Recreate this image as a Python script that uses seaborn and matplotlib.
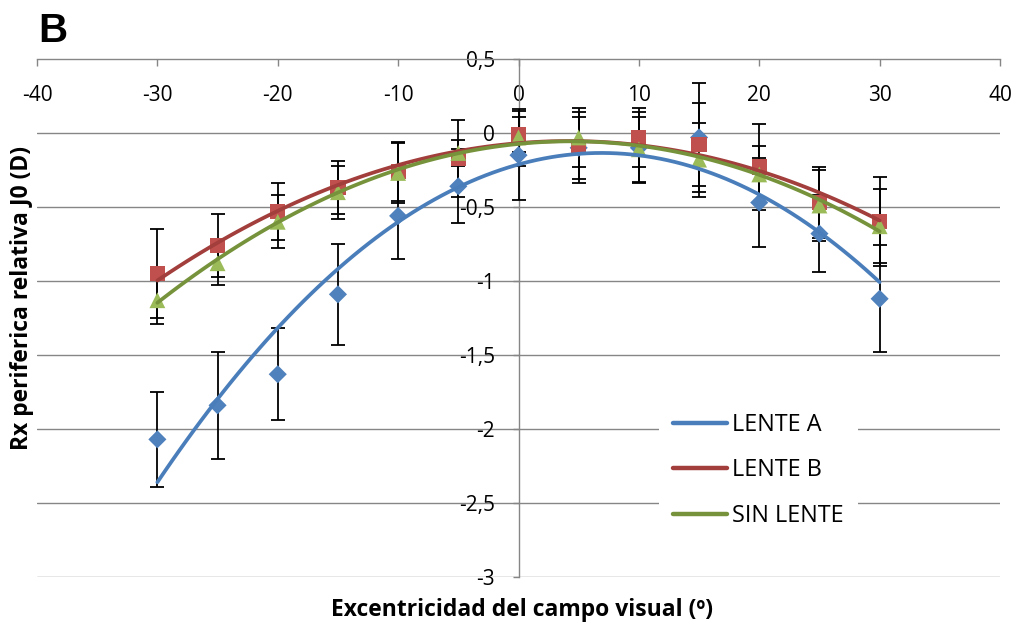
import numpy as np
import pandas as pd
import matplotlib
matplotlib.use("Agg")
import matplotlib.pyplot as plt
import seaborn as sns
from matplotlib.ticker import FuncFormatter
from matplotlib.lines import Line2D

# Eccentricity of the visual field (degrees)
ecc = [-30, -25, -20, -15, -10, -5, 0, 5, 10, 15, 20, 25, 30]

# Relative peripheral refraction J0 (D), mean and error per series
lente_a = [-2.07, -1.84, -1.63, -1.09, -0.56, -0.36, -0.15, -0.10, -0.10, -0.03, -0.47, -0.68, -1.12]
lente_a_err = [0.32, 0.36, 0.31, 0.34, 0.29, 0.25, 0.30, 0.21, 0.24, 0.37, 0.30, 0.26, 0.36]
lente_b = [-0.95, -0.76, -0.53, -0.37, -0.26, -0.17, -0.01, -0.10, -0.03, -0.08, -0.23, -0.47, -0.60]
lente_b_err = [0.30, 0.21, 0.19, 0.18, 0.20, 0.26, 0.12, 0.24, 0.20, 0.28, 0.29, 0.24, 0.30]
sin_lente = [-1.13, -0.88, -0.60, -0.40, -0.27, -0.135, -0.03, -0.03, -0.11, -0.18, -0.28, -0.49, -0.63]
sin_lente_err = [0.16, 0.15, 0.18, 0.18, 0.20, 0.09, 0.19, 0.20, 0.22, 0.25, 0.19, 0.24, 0.25]

series_names = ["LENTE A", "LENTE B", "SIN LENTE"]
x_ticks = [-40, -30, -20, -10, 0, 10, 20, 30, 40]
y_ticks = [-3, -2.5, -2, -1.5, -1, -0.5, 0, 0.5]

marker_colors = {"LENTE A": "#4F81BD", "LENTE B": "#C0504D", "SIN LENTE": "#9BBB59"}
line_colors = {"LENTE A": "#4A7EBB", "LENTE B": "#A23E3B", "SIN LENTE": "#76933C"}
markers = {"LENTE A": "D", "LENTE B": "s", "SIN LENTE": "^"}
sizes = {"LENTE A": 85, "LENTE B": 120, "SIN LENTE": 130}

sns.set_theme(style="white")
plt.rcParams["font.family"] = ["Open Sans", "DejaVu Sans"]
plt.rcParams["text.color"] = "black"
plt.rcParams["axes.labelcolor"] = "black"

W, H = 1017, 630
fig = plt.figure(figsize=(W / 100, H / 100), dpi=100)
ax = fig.add_axes([37 / W, 53 / H, 963 / W, 518 / H])

ax.set_xlim(-40, 40)
ax.set_ylim(-3, 0.5)

# horizontal gridlines
for yv in y_ticks[:-1]:
    ax.axhline(yv, color="#868686", lw=1.0, zorder=0)

values = {"LENTE A": (lente_a, lente_a_err),
          "LENTE B": (lente_b, lente_b_err),
          "SIN LENTE": (sin_lente, sin_lente_err)}

rows = []
for name in series_names:
    vals, errs = values[name]
    for xv, yv, ev in zip(ecc, vals, errs):
        rows.append({"ecc": xv, "val": yv, "err": ev, "serie": name})
df = pd.DataFrame(rows)

# error bars
for name in series_names:
    sub = df[df["serie"] == name]
    ax.errorbar(sub["ecc"], sub["val"], yerr=sub["err"], fmt="none",
                ecolor="black", elinewidth=1.3, capsize=5, capthick=1.3, zorder=2)

# markers
for name in series_names:
    sub = df[df["serie"] == name]
    sns.scatterplot(data=sub, x="ecc", y="val", marker=markers[name],
                    color=marker_colors[name], s=sizes[name], edgecolor="none",
                    linewidth=0, ax=ax, zorder=3, legend=False)

# second-order polynomial trendlines
for name in series_names:
    sub = df[df["serie"] == name]
    sns.regplot(data=sub, x="ecc", y="val", order=2, ci=None, scatter=False,
                truncate=True, ax=ax,
                line_kws=dict(color=line_colors[name], lw=2.7, zorder=4,
                              solid_capstyle="round"))

# axes styling: x axis at y=0.5, y axis at x=0
for s in ["top", "right"]:
    ax.spines[s].set_visible(False)
ax.spines["bottom"].set_position(("data", 0.5))
ax.spines["left"].set_position(("data", 0))
for s in ["bottom", "left"]:
    ax.spines[s].set_color("#868686")
    ax.spines[s].set_linewidth(1.0)
    ax.spines[s].set_zorder(1)

ax.set_xticks(x_ticks)
ax.set_yticks(y_ticks)
ax.xaxis.set_major_formatter(FuncFormatter(lambda v, p: f"{v:g}"))
ax.yaxis.set_major_formatter(FuncFormatter(lambda v, p: f"{v:g}".replace(".", ",")))
ax.tick_params(axis="x", direction="out", length=5, width=1.0, color="#868686",
               pad=14, labelsize=15, labelcolor="black", bottom=True)
ax.tick_params(axis="y", direction="out", length=4, width=1.0, color="#868686",
               pad=13, labelsize=15, labelcolor="black", left=True)
ax.set_xlabel("")
ax.set_ylabel("")

# legend
handles = [Line2D([0], [0], color=line_colors[n], lw=3.2, solid_capstyle="round")
           for n in series_names]
leg = ax.legend(handles, series_names, loc="upper left",
                bbox_to_anchor=(659 / W, 1 - 399 / H), bbox_transform=fig.transFigure,
                frameon=True, fancybox=False, fontsize=16.8, handlelength=2.3,
                handletextpad=0.25, labelspacing=0.92, borderpad=0.6,
                borderaxespad=0)
leg.get_frame().set_facecolor("white")
leg.get_frame().set_edgecolor("none")
leg.get_frame().set_alpha(1)
leg.set_zorder(5)

fig.text(22 / W, 1 - 298 / H, "Rx periferica relativa J0 (D)", rotation=90,
         ha="center", va="center", fontsize=16.5, fontweight="bold")
fig.text(522 / W, 1 - 610 / H, "Excentricidad del campo visual (º)",
         ha="center", va="center", fontsize=16.5, fontweight="bold")
fig.text(38 / W, 1 - 42 / H, "B", ha="left", va="baseline", fontsize=29,
         fontweight="bold", color="black", family=["Liberation Sans", "DejaVu Sans"])

fig.savefig("out.png", dpi=100, facecolor="white")
